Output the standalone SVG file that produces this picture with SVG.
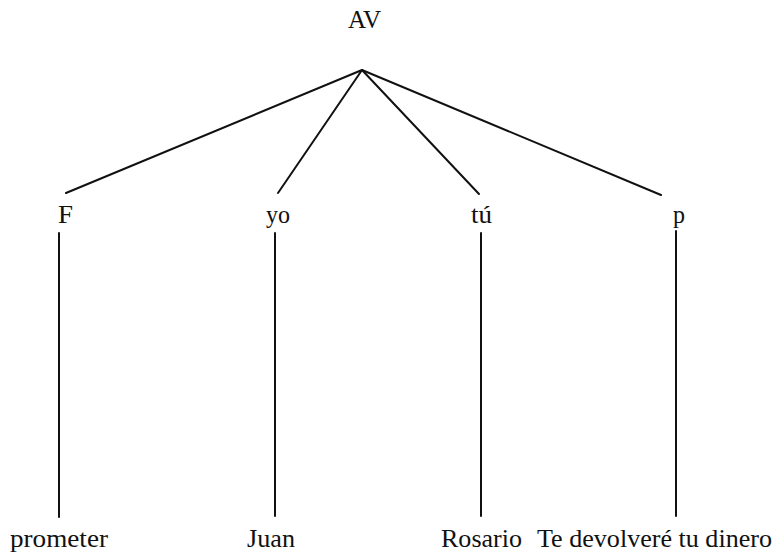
<svg xmlns="http://www.w3.org/2000/svg" width="778" height="553" viewBox="0 0 778 553">
<style>
text{font-family:"Liberation Serif","Times New Roman",serif;font-size:26px;fill:#111}
.c line{stroke:#111;stroke-width:2;stroke-linecap:round}
</style>
<rect width="778" height="553" fill="#fff"/>
<g class="c" id="connectors">
<line x1="362" y1="70" x2="66" y2="193"/>
<line x1="362" y1="70" x2="278" y2="193"/>
<line x1="362" y1="70" x2="479" y2="194"/>
<line x1="362" y1="70" x2="661" y2="195"/>
<line x1="59" y1="233" x2="59" y2="517"/>
<line x1="275" y1="233" x2="275" y2="516"/>
<line x1="481" y1="233" x2="481" y2="516"/>
<line x1="676" y1="231" x2="676" y2="516"/>
</g>
<g id="n-AV"><text x="348" y="28" textLength="33" lengthAdjust="spacingAndGlyphs">AV</text></g>
<g id="n-F"><text x="58" y="223" textLength="15" lengthAdjust="spacingAndGlyphs">F</text></g>
<g id="n-yo"><text x="266" y="223" textLength="24" lengthAdjust="spacingAndGlyphs">yo</text></g>
<g id="n-tu"><text x="471" y="223" textLength="21" lengthAdjust="spacingAndGlyphs">tú</text></g>
<g id="n-p"><text x="673" y="223" textLength="12" lengthAdjust="spacingAndGlyphs">p</text></g>
<g id="n-prometer"><text x="10" y="547" textLength="98" lengthAdjust="spacingAndGlyphs">prometer</text></g>
<g id="n-juan"><text x="247" y="547" textLength="48" lengthAdjust="spacingAndGlyphs">Juan</text></g>
<g id="n-rosario"><text x="441" y="547" textLength="81" lengthAdjust="spacingAndGlyphs">Rosario</text></g>
<g id="n-te"><text x="537" y="547" textLength="235" lengthAdjust="spacingAndGlyphs">Te devolveré tu dinero</text></g>
</svg>
